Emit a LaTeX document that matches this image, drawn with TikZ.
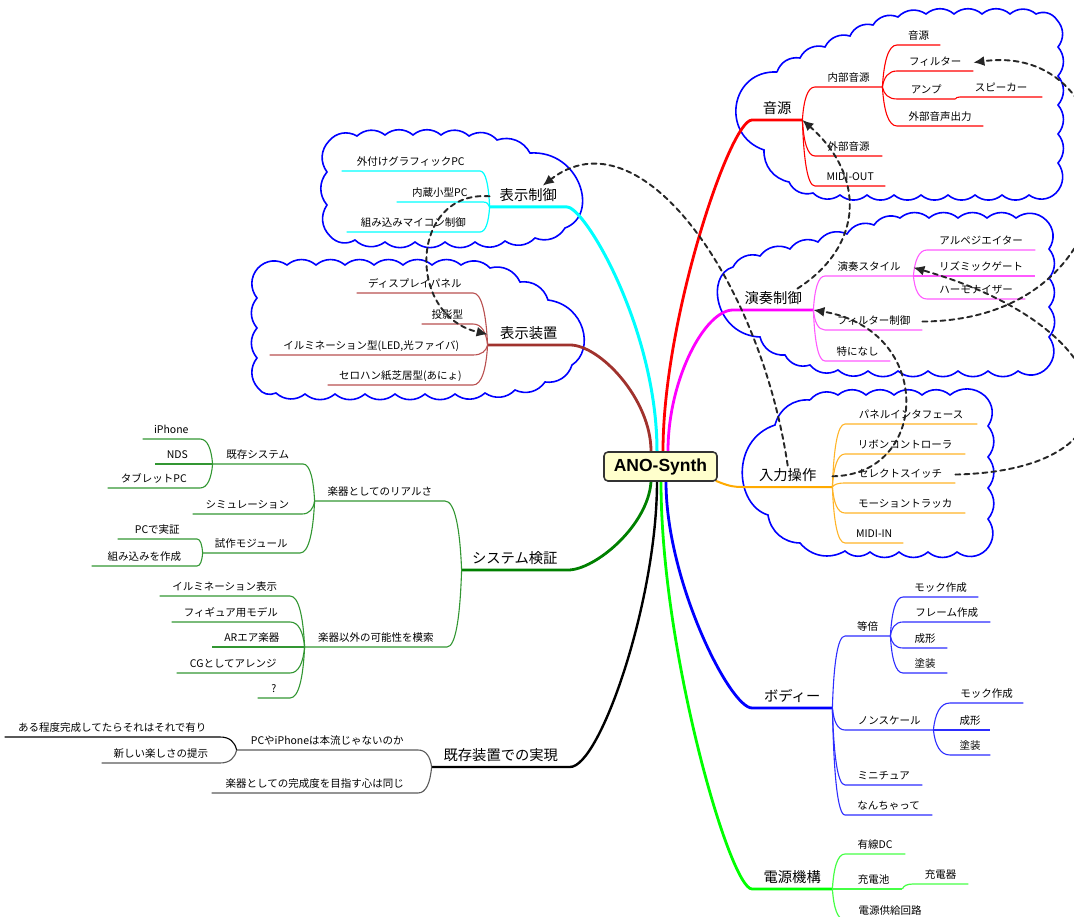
\documentclass[tikz,border=0pt]{standalone}
\usepackage{fontspec}
\setmainfont{Noto Sans CJK JP}
\newfontfamily\rootfont{Liberation Sans}
\usetikzlibrary{arrows.meta,calc}
\pgfdeclarelayer{bg}
\pgfsetlayers{bg,main}

\definecolor{cRed}{RGB}{255,0,0}
\definecolor{cCyan}{RGB}{0,255,255}
\definecolor{cBrownM}{RGB}{160,50,45}
\definecolor{cBrownC}{RGB}{185,80,80}
\definecolor{cMagM}{RGB}{255,0,255}
\definecolor{cMagC}{RGB}{255,90,255}
\definecolor{cOrange}{RGB}{255,170,0}
\definecolor{cOrangeC}{RGB}{255,180,40}
\definecolor{cGreenM}{RGB}{0,128,0}
\definecolor{cGreenC}{RGB}{50,150,50}
\definecolor{cBlueM}{RGB}{0,0,255}
\definecolor{cBlueC}{RGB}{45,45,255}
\definecolor{cLimeM}{RGB}{0,255,0}
\definecolor{cLimeC}{RGB}{70,255,70}
\definecolor{cGray}{RGB}{90,90,90}
\definecolor{cloudBlue}{RGB}{0,0,255}
\definecolor{rootFill}{RGB}{255,255,204}

\begin{document}
\begin{tikzpicture}[x=1pt,y=-1pt,line cap=round,line join=round,
  leaf/.style={inner xsep=0pt,inner ysep=3pt,text height=8.5pt,text depth=2pt,
    font=\fontsize{10.5}{12}\selectfont},
  topic/.style={inner xsep=0pt,inner ysep=4pt,text height=11pt,text depth=2pt,
    font=\fontsize{14.3}{17}\selectfont},
  toR/.style={anchor=south west},
  toL/.style={anchor=south east},
  rootbox/.style={draw=black!80,line width=1.6pt,fill=rootFill,rounded corners=4pt,
    minimum width=113pt,minimum height=29pt,inner sep=0pt,
    font=\rootfont\bfseries\fontsize{17.5}{19}\selectfont},
  br/.style={to path={let \p1=(\tikztostart), \p2=(\tikztotarget) in
    .. controls ({\x1+0.1*(\x2-\x1)},{\y1+0.6*(\y2-\y1)}) and ({\x2-0.6*(\x2-\x1)},\y2) .. (\tikztotarget)}},
  cloudline/.style={draw=cloudBlue,line width=1.6pt},
  link/.style={draw=black!85,line width=1.9pt,dash pattern=on 5pt off 4pt,
    -{Latex[length=11pt,width=10pt]}},
  mRed/.style={draw=cRed,line width=2.8pt},
  mCyan/.style={draw=cCyan,line width=3pt},
  mBrown/.style={draw=cBrownM,line width=2.8pt},
  mMag/.style={draw=cMagM,line width=2.8pt},
  mOrange/.style={draw=cOrange,line width=2pt},
  mGreen/.style={draw=cGreenM,line width=2.8pt},
  mBlack/.style={draw=black,line width=2.4pt},
  mBlue/.style={draw=cBlueM,line width=2.8pt},
  mLime/.style={draw=cLimeM,line width=2.8pt},
  cRedL/.style={draw=cRed,line width=1.1pt},
  cCyanL/.style={draw=cCyan,line width=1.2pt},
  cBrownL/.style={draw=cBrownC,line width=1.1pt},
  cMagL/.style={draw=cMagC,line width=1.1pt},
  cOrangeL/.style={draw=cOrangeC,line width=1.1pt},
  cGreenL/.style={draw=cGreenC,line width=1.1pt},
  cGrayL/.style={draw=cGray,line width=1.1pt},
  cBlueL/.style={draw=cBlueC,line width=1.1pt},
  cLimeL/.style={draw=cLimeC,line width=1.2pt},
]
\useasboundingbox (0,0) rectangle (1074,917);

% ---------------- nodes ----------------
\node[rootbox] (root) at (660.5,466.5) {ANO-Synth};

% main topics
\node[topic,toR,minimum width=50pt]  (onsen)    at (752,120) {音源};
\node[topic,toR,minimum width=80pt]  (ensou)    at (733,310) {演奏制御};
\node[topic,toR,minimum width=89pt]  (nyuryoku) at (743,487) {入力操作};
\node[topic,toR,minimum width=80pt]  (body)     at (752,708) {ボディー};
\node[topic,toR,minimum width=80pt]  (dengen)   at (752,889) {電源機構};
\node[topic,toL,minimum width=77pt]  (hyoji)    at (567,207) {表示制御};
\node[topic,toL,minimum width=82pt]  (souchi)   at (570,345) {表示装置};
\node[topic,toL,minimum width=106pt] (kensho)   at (568,570) {システム検証};
\node[topic,toL,minimum width=138pt] (jitsugen) at (570,767) {既存装置での実現};

% sound source
\node[leaf,toR,minimum width=67pt] (naibu)    at (815,87)  {内部音源};
\node[leaf,toR,minimum width=43pt] (nonsen)   at (897,45)  {音源};
\node[leaf,toR,minimum width=76pt] (filter)   at (897,71)  {フィルター};
\node[leaf,toR,minimum width=58pt] (amp)      at (897,99)  {アンプ};
\node[leaf,toR,minimum width=82pt] (speaker)  at (960,97)  {スピーカー};
\node[leaf,toR,minimum width=86pt] (gaibuout) at (897,126) {外部音声出力};
\node[leaf,toR,minimum width=67pt] (gaibu)    at (815,156) {外部音源};
\node[leaf,toR,minimum width=70pt] (midiout)  at (815,186) {MIDI-OUT};

% performance control
\node[leaf,toR,minimum width=88pt]  (style)   at (825,276) {演奏スタイル};
\node[leaf,toR,minimum width=108pt] (arp)     at (927,250) {アルペジエイター};
\node[leaf,toR,minimum width=108pt] (rhythm)  at (927,276) {リズミックゲート};
\node[leaf,toR,minimum width=98pt]  (harmo)   at (927,299) {ハーモナイザー};
\node[leaf,toR,minimum width=97pt]  (filtctl) at (825,330) {フィルター制御};
\node[leaf,toR,minimum width=65pt]  (nothing) at (825,361) {特になし};

% input
\node[leaf,toR,minimum width=132pt] (panel)  at (845,424) {パネルインタフェース};
\node[leaf,toR,minimum width=120pt] (ribbon) at (845,454) {リボンコントローラ};
\node[leaf,toR,minimum width=110pt] (select) at (845,483) {セレクトスイッチ};
\node[leaf,toR,minimum width=120pt] (motion) at (845,513) {モーショントラッカ};
\node[leaf,toR,minimum width=58pt]  (midiin) at (845,543) {MIDI-IN};

% body
\node[leaf,toR,minimum width=45pt] (tobai)     at (845,636) {等倍};
\node[leaf,toR,minimum width=75pt] (mockA)     at (903,597) {モック作成};
\node[leaf,toR,minimum width=87pt] (frame)     at (903,622) {フレーム作成};
\node[leaf,toR,minimum width=44pt] (seikeiA)   at (903,648) {成形};
\node[leaf,toR,minimum width=44pt] (tosouA)    at (903,673) {塗装};
\node[leaf,toR,minimum width=88pt] (nonscale)  at (845,730) {ノンスケール};
\node[leaf,toR,minimum width=73pt] (mockB)     at (950,703) {モック作成};
\node[leaf,toR,minimum width=40pt] (seikeiB)   at (950,730) {成形};
\node[leaf,toR,minimum width=40pt] (tosouB)    at (950,755) {塗装};
\node[leaf,toR,minimum width=77pt] (mini)      at (845,785) {ミニチュア};
\node[leaf,toR,minimum width=87pt] (nanchatte) at (845,815) {なんちゃって};

% power
\node[leaf,toR,minimum width=60pt] (yusen)   at (845,854) {有線DC};
\node[leaf,toR,minimum width=57pt] (juden)   at (845,889) {充電池};
\node[leaf,toR,minimum width=55pt] (charger) at (913,884) {充電器};
\node[leaf,toR,minimum width=90pt] (kyokyu)  at (845,920) {電源供給回路};

% display control
\node[leaf,toL,minimum width=138pt] (gaitsuke)  at (480,171) {外付けグラフィックPC};
\node[leaf,toL,minimum width=86pt]  (naizo)     at (483,202) {内蔵小型PC};
\node[leaf,toL,minimum width=133pt] (kumikomiM) at (480,232) {組み込みマイコン制御};

% display devices
\node[leaf,toL,minimum width=116pt] (display) at (473,293) {ディスプレイパネル};
\node[leaf,toL,minimum width=51pt]  (toei)    at (473,324) {投影型};
\node[leaf,toL,minimum width=203pt] (illum)   at (473,355) {イルミネーション型(LED,光ファイバ)};
\node[leaf,toL,minimum width=145pt] (cello)   at (473,385) {セロハン紙芝居型(あにょ)};

% system verification
\node[leaf,toL,minimum width=130pt] (real)      at (445,501) {楽器としてのリアルさ};
\node[leaf,toL,minimum width=90pt]  (kizonsys)  at (303,464) {既存システム};
\node[leaf,toL,minimum width=57pt]  (iphone)    at (200,439) {iPhone};
\node[leaf,toL,minimum width=45pt]  (nds)       at (200,464) {NDS};
\node[leaf,toL,minimum width=92pt]  (tablet)    at (200,488) {タブレットPC};
\node[leaf,toL,minimum width=109pt] (simu)      at (302,514) {シミュレーション};
\node[leaf,toL,minimum width=97pt]  (shisaku)   at (300,553) {試作モジュール};
\node[leaf,toL,minimum width=79pt]  (pcjissho)  at (197,539) {PCで実証};
\node[leaf,toL,minimum width=105pt] (kumikomiS) at (197,566) {組み込みを作成};
\node[leaf,toL,minimum width=142pt] (igai)      at (447,647) {楽器以外の可能性を模索};
\node[leaf,toL,minimum width=130pt] (illumB)    at (290,596) {イルミネーション表示};
\node[leaf,toL,minimum width=118pt] (figure)    at (290,622) {フィギュア用モデル};
\node[leaf,toL,minimum width=80pt]  (ar)        at (292,647) {ARエア楽器};
\node[leaf,toL,minimum width=113pt] (cg)        at (290,673) {CGとしてアレンジ};
\node[leaf,toL,minimum width=32pt]  (qmark)     at (290,698) {?};

% realisation on existing devices
\node[leaf,toL,minimum width=181pt] (pcya)      at (418,750) {PCやiPhoneは本流じゃないのか};
\node[leaf,toL,minimum width=215pt] (aru)       at (220,737) {ある程度完成してたらそれはそれで有り};
\node[leaf,toL,minimum width=118pt] (atarashii) at (220,763) {新しい楽しさの提示};
\node[leaf,toL,minimum width=206pt] (kansei)    at (418,793) {楽器としての完成度を目指す心は同じ};

% ---------------- clouds and branches ----------------
\begin{pgfonlayer}{bg}
% cloud: sound source
\draw[cloudline] (777,72) to[bend left=40] (800,58) to[bend left=40] (825,47)
  to[bend left=40] (850,36) to[bend left=40] (873,25) to[bend left=40] (898,17)
  to[bend left=40] (926,14) to[bend left=40] (954,14) to[bend left=40] (982,14)
  to[bend left=40] (1010,14) to[bend left=40] (1036,14) to[bend left=40] (1057,20)
  to[bend left=40] (1058,47) to[bend left=40] (1058,76) to[bend left=40] (1058,105)
  to[bend left=40] (1058,134) to[bend left=40] (1058,163) to[bend left=40] (1056,193)
  to[bend left=40] (1029,195) to[bend left=40] (1002,195) to[bend left=40] (975,195)
  to[bend left=40] (948,195) to[bend left=40] (921,195) to[bend left=40] (894,195)
  to[bend left=40] (867,195) to[bend left=40] (840,195) to[bend left=40] (813,193)
  to[bend left=40] (789,182) to[bend left=40] (764,150)
  .. controls (720,135) and (730,70) .. (777,72);
% cloud: performance control
\draw[cloudline] (733,267) to[bend left=40] (760,256) to[bend left=40] (790,249)
  to[bend left=40] (818,242) to[bend left=40] (847,234) to[bend left=40] (874,225)
  to[bend left=40] (900,218) to[bend left=40] (929,218) to[bend left=40] (958,218)
  to[bend left=40] (987,218) to[bend left=40] (1016,218) to[bend left=40] (1046,220)
  to[bend left=40] (1049,249) to[bend left=40] (1049,278) to[bend left=40] (1049,307)
  to[bend left=40] (1049,337) to[bend left=40] (1047,368)
  to[bend left=40] (1018,371) to[bend left=40] (988,371) to[bend left=40] (958,371)
  to[bend left=40] (928,371) to[bend left=40] (898,371) to[bend left=40] (868,371)
  to[bend left=40] (838,370) to[bend left=40] (810,365) to[bend left=40] (785,355)
  to[bend left=40] (760,337)
  .. controls (715,335) and (705,275) .. (733,267);
% cloud: input
\draw[cloudline] (810,400) to[bend left=40] (838,395) to[bend left=40] (866,395)
  to[bend left=40] (894,395) to[bend left=40] (922,395) to[bend left=40] (950,395)
  to[bend left=40] (985,396) to[bend left=40] (988,426) to[bend left=40] (988,457)
  to[bend left=40] (988,488) to[bend left=40] (988,519) to[bend left=40] (986,550)
  to[bend left=40] (957,552) to[bend left=40] (928,552) to[bend left=40] (899,552)
  to[bend left=40] (870,552) to[bend left=40] (845,551) to[bend left=40] (800,543)
  to[bend left=40] (768,515)
  .. controls (735,505) and (730,440) .. (775,425) to[bend left=40] (810,400);
% cloud: display control
\draw[cloudline] (329,141) to[bend left=40] (357,136) to[bend left=40] (385,135)
  to[bend left=40] (413,135) to[bend left=40] (441,135) to[bend left=40] (469,136)
  to[bend left=40] (497,140) to[bend left=40] (530,153)
  .. controls (580,150) and (600,215) .. (565,228)
  to[bend left=40] (535,238) to[bend left=40] (505,241) to[bend left=40] (475,242)
  to[bend left=40] (445,242) to[bend left=40] (415,242) to[bend left=40] (385,242)
  to[bend left=40] (355,240) to[bend left=40] (330,236) to[bend left=40] (327,205)
  to[bend left=40] (327,172) to[bend left=40] (329,141);
% cloud: display devices
\draw[cloudline] (258,268) to[bend left=40] (287,265) to[bend left=40] (316,265)
  to[bend left=40] (345,265) to[bend left=40] (374,265) to[bend left=40] (403,265)
  to[bend left=40] (432,265) to[bend left=40] (461,265) to[bend left=40] (490,268)
  to[bend left=40] (520,282) to[bend left=40] (548,300)
  .. controls (585,305) and (595,350) .. (572,365)
  to[bend left=40] (545,382) to[bend left=40] (515,390) to[bend left=40] (485,393)
  to[bend left=40] (455,394) to[bend left=40] (425,394) to[bend left=40] (395,394)
  to[bend left=40] (365,394) to[bend left=40] (335,394) to[bend left=40] (305,394)
  to[bend left=40] (276,393) to[bend left=40] (258,388) to[bend left=40] (257,358)
  to[bend left=40] (257,328) to[bend left=40] (257,298) to[bend left=40] (258,268);

% main branches from the root
\draw[mBrown] ([xshift=-9.5pt]root.north) .. controls +(0,-52) and +(30,0) .. (souchi.south east) -- (souchi.south west);
\draw[mCyan] ([xshift=-3.5pt]root.north) .. controls +(0,-122) and +(18,0) .. (hyoji.south east) -- (hyoji.south west);
\draw[mRed] ([xshift=2.5pt]root.north) .. controls +(0,-132) and +(-22,0) .. (onsen.south west) -- (onsen.south east);
\draw[mMag] ([xshift=7.5pt]root.north) .. controls +(0,-72) and +(-28,0) .. (ensou.south west) -- (ensou.south east);
\draw[mOrange] ([xshift=-2pt,yshift=1pt]root.south east) .. controls +(12,5) and +(-10,0) .. (nyuryoku.south west) -- (nyuryoku.south east);
\draw[mGreen] ([xshift=-9.5pt]root.south) .. controls +(-3,44) and +(27,0) .. (kensho.south east) -- (kensho.south west);
\draw[mBlack] ([xshift=-3.5pt]root.south) .. controls +(0,119) and +(30,0) .. (jitsugen.south east) -- (jitsugen.south west);
\draw[mLime] ([xshift=0.5pt]root.south) .. controls +(0,169) and +(-22,0) .. (dengen.south west) -- (dengen.south east);
\draw[mBlue] ([xshift=5.5pt]root.south) .. controls +(0,99) and +(-22,0) .. (body.south west) -- (body.south east);

% sound source branches
\foreach \k in {naibu,gaibu,midiout} \draw[cRedL] (onsen.south east) to[br] (\k.south west) -- (\k.south east);
\foreach \k in {nonsen,filter,amp,gaibuout} \draw[cRedL] (naibu.south east) to[br] (\k.south west) -- (\k.south east);
\draw[cRedL] (amp.south east) to[br] (speaker.south west) -- (speaker.south east);

% performance control branches
\foreach \k in {style,filtctl,nothing} \draw[cMagL] (ensou.south east) to[br] (\k.south west) -- (\k.south east);
\foreach \k in {arp,rhythm,harmo} \draw[cMagL] (style.south east) to[br] (\k.south west) -- (\k.south east);

% input branches
\foreach \k in {panel,ribbon,select,motion,midiin} \draw[cOrangeL] (nyuryoku.south east) to[br] (\k.south west) -- (\k.south east);

% body branches
\foreach \k in {tobai,nonscale,mini,nanchatte} \draw[cBlueL] (body.south east) to[br] (\k.south west) -- (\k.south east);
\foreach \k in {mockA,frame,seikeiA,tosouA} \draw[cBlueL] (tobai.south east) to[br] (\k.south west) -- (\k.south east);
\foreach \k in {mockB,seikeiB,tosouB} \draw[cBlueL] (nonscale.south east) to[br] (\k.south west) -- (\k.south east);

% power branches
\foreach \k in {yusen,juden,kyokyu} \draw[cLimeL] (dengen.south east) to[br] (\k.south west) -- (\k.south east);
\draw[cLimeL] (juden.south east) to[br] (charger.south west) -- (charger.south east);

% display control / devices branches
\foreach \k in {gaitsuke,naizo,kumikomiM} \draw[cCyanL] (hyoji.south west) to[br] (\k.south east) -- (\k.south west);
\foreach \k in {display,toei,illum,cello} \draw[cBrownL] (souchi.south west) to[br] (\k.south east) -- (\k.south west);

% verification branches
\foreach \k in {real,igai} \draw[cGreenL] (kensho.south west) to[br] (\k.south east) -- (\k.south west);
\foreach \k in {kizonsys,simu,shisaku} \draw[cGreenL] (real.south west) to[br] (\k.south east) -- (\k.south west);
\foreach \k in {iphone,nds,tablet} \draw[cGreenL] (kizonsys.south west) to[br] (\k.south east) -- (\k.south west);
\foreach \k in {pcjissho,kumikomiS} \draw[cGreenL] (shisaku.south west) to[br] (\k.south east) -- (\k.south west);
\foreach \k in {illumB,figure,ar,cg,qmark} \draw[cGreenL] (igai.south west) to[br] (\k.south east) -- (\k.south west);

% existing device branches
\foreach \k in {pcya,kansei} \draw[cGrayL] (jitsugen.south west) to[br] (\k.south east) -- (\k.south west);
\draw[draw=black,line width=1.1pt] (pcya.south west) to[br] (aru.south east) -- (aru.south west);
\draw[cGrayL] (pcya.south west) to[br] (atarashii.south east) -- (atarashii.south west);
\end{pgfonlayer}

% ---------------- cross links ----------------
\draw[link] (filtctl.east) .. controls (1150,320) and (1140,40) .. (filter.east);
\draw[link] (select.east) .. controls (1150,470) and (1130,330) .. (style.east);
\draw[link] (nyuryoku.east) .. controls (930,475) and (935,330) .. (ensou.south east);
\draw[link] (nyuryoku.north) .. controls (760,280) and (640,110) .. ([xshift=14.5pt]hyoji.north);
\draw[link] (hyoji.west) .. controls (410,190) and (405,315) .. (souchi.west);
\draw[link] ([xshift=-16pt]ensou.north east) .. controls (865,245) and (865,175) .. (onsen.south east);
\end{tikzpicture}
\end{document}
